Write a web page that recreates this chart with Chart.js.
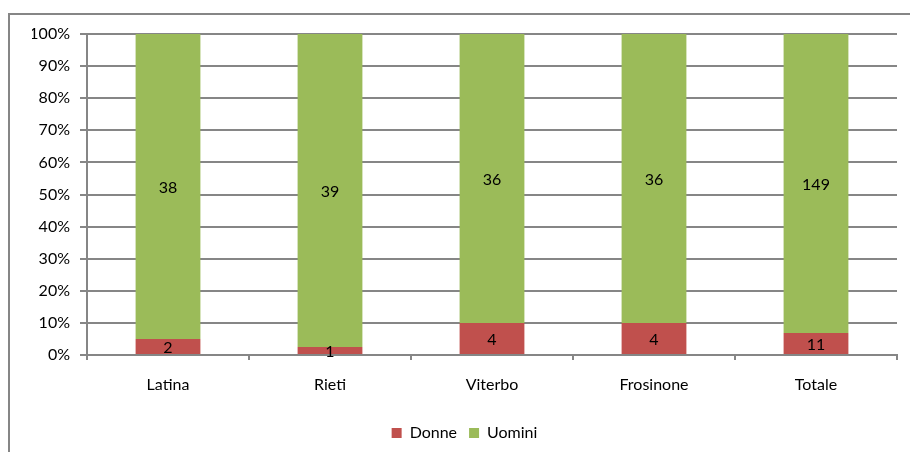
<!DOCTYPE html>
<html lang="it">
  <head>
    <meta charset="UTF-8" />
    <meta name="viewport" content="width=device-width, initial-scale=1.0" />
    <title>Donne e uomini per provincia</title>
    <style>
      body {
        margin: 0;
        background: #ffffff;
      }

      .chart-box {
        position: relative;
        width: 910px;
        height: 452px;
      }
    </style>
    <script src="https://cdn.jsdelivr.net/npm/chart.js"></script>
  </head>
  <body>
    <div class="chart-box">
      <canvas id="genderChart"></canvas>
    </div>
    <script>
      const province = ["Latina", "Rieti", "Viterbo", "Frosinone", "Totale"];
      const donne = [2, 1, 4, 4, 11];
      const uomini = [38, 39, 36, 36, 149];

      const gray = "#868686";
      const labelFont = { family: "Lato, 'Open Sans', sans-serif", size: 16 };

      // share of each group on the province total, in percent
      function share(values) {
        return values.map((v, i) => (v / (donne[i] + uomini[i])) * 100);
      }

      // thin grey frame around the whole chart
      const chartFrame = {
        id: "chartFrame",
        beforeDraw(chart) {
          const ctx = chart.ctx;
          ctx.save();
          ctx.strokeStyle = gray;
          ctx.lineWidth = 2;
          ctx.strokeRect(9, 14, 1000, 1000);
          ctx.restore();
        },
      };

      // counts written in the middle of each stacked segment
      const segmentLabels = {
        id: "segmentLabels",
        afterDatasetsDraw(chart) {
          const ctx = chart.ctx;
          ctx.save();
          ctx.font = "16px Lato, 'Open Sans', sans-serif";
          ctx.fillStyle = "#000000";
          ctx.textAlign = "center";
          ctx.textBaseline = "middle";
          chart.data.datasets.forEach((ds, i) => {
            chart.getDatasetMeta(i).data.forEach((bar, j) => {
              const p = bar.getProps(["x", "y", "base"], true);
              ctx.fillText(String(ds.counts[j]), p.x, (p.y + p.base) / 2 + 1);
            });
          });
          ctx.restore();
        },
      };

      new Chart(document.getElementById("genderChart").getContext("2d"), {
        type: "bar",
        data: {
          labels: province,
          datasets: [
            {
              label: "Donne",
              data: share(donne),
              counts: donne,
              backgroundColor: "#C0504D",
            },
            {
              label: "Uomini",
              data: share(uomini),
              counts: uomini,
              backgroundColor: "#9BBB59",
            },
          ],
        },
        options: {
          responsive: true,
          maintainAspectRatio: false,
          devicePixelRatio: 1,
          animation: false,
          categoryPercentage: 1,
          barPercentage: 0.4,
          layout: { padding: { top: 34, left: 32, right: 13, bottom: 1 } },
          plugins: {
            tooltip: { enabled: false },
            legend: {
              position: "bottom",
              labels: {
                boxWidth: 10,
                boxHeight: 10,
                padding: 12,
                color: "#000000",
                font: labelFont,
              },
            },
          },
          scales: {
            x: {
              stacked: true,
              afterFit: (scale) => {
                scale.height = 58;
              },
              grid: {
                offset: true,
                drawOnChartArea: false,
                drawTicks: true,
                tickLength: 5,
                color: gray,
                lineWidth: 2,
              },
              border: { color: gray, width: 2 },
              ticks: { color: "#000000", font: labelFont, padding: 15 },
            },
            y: {
              stacked: true,
              min: 0,
              max: 100,
              afterFit: (scale) => {
                scale.width = 55;
              },
              grid: {
                color: gray,
                lineWidth: 2,
                drawTicks: true,
                tickLength: 7,
              },
              border: { color: gray, width: 2 },
              ticks: {
                stepSize: 10,
                color: "#000000",
                font: labelFont,
                padding: 10,
                callback: (v) => v + "%",
              },
            },
          },
        },
        plugins: [chartFrame, segmentLabels],
      });
    </script>
  </body>
</html>
